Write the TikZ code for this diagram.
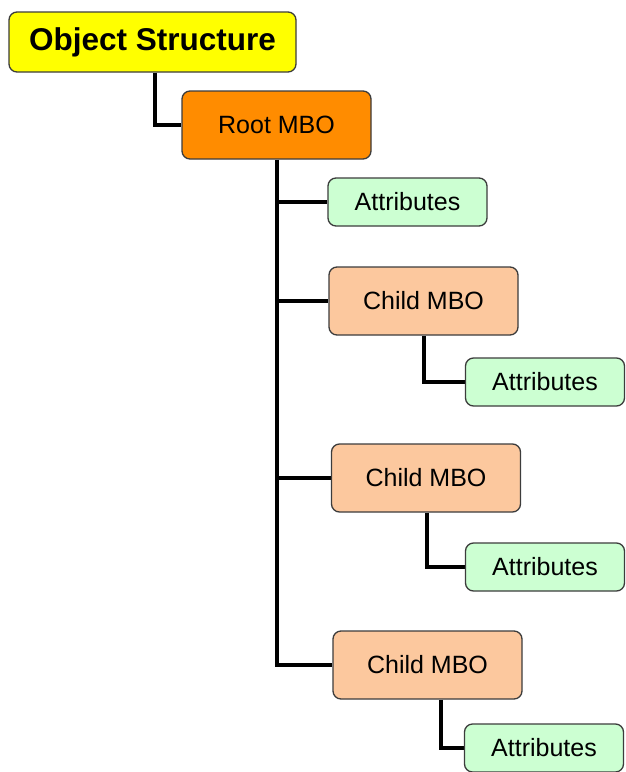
\documentclass[tikz,border=0pt]{standalone}
\usepackage{fontspec}
\setmainfont{Liberation Sans}
\usetikzlibrary{backgrounds}
\definecolor{titleyellow}{RGB}{255,255,0}
\definecolor{rootorange}{RGB}{255,140,0}
\definecolor{childpeach}{RGB}{252,200,158}
\definecolor{attrgreen}{RGB}{204,255,210}
\definecolor{boxedge}{RGB}{60,60,60}
\tikzset{
  box/.style={draw=boxedge, line width=1.3pt, rounded corners=8pt, inner sep=0pt,
    font=\fontsize{25}{30}\selectfont, text=black},
  titlebox/.style={box, fill=titleyellow, minimum width=287pt, minimum height=60pt,
    font=\fontsize{31.5}{36}\selectfont\bfseries},
  rootbox/.style={box, fill=rootorange, minimum width=189pt, minimum height=68pt},
  childbox/.style={box, fill=childpeach, minimum width=189pt, minimum height=68pt},
  attrbox/.style={box, fill=attrgreen, minimum width=159pt, minimum height=48pt},
  link/.style={draw=black, line width=4pt}
}
\begin{document}
\begin{tikzpicture}[x=1pt, y=-1pt]
  \useasboundingbox (0,0) rectangle (626,772);

  % x positions of the vertical tree lines
  \coordinate (tOS) at (155,72);
  \coordinate (tRoot) at (277,159);
  \coordinate (tC1) at (424,335);
  \coordinate (tC2) at (427,512);
  \coordinate (tC3) at (441,699);

  % boxes
  \node[titlebox] (os) at (152.5,42) {Object Structure};
  \node[rootbox]  (root) at (276.5,125) {Root MBO};
  \node[attrbox]  (a1) at (407.5,202) {Attributes};
  \node[childbox] (c1) at (423.5,301) {Child MBO};
  \node[attrbox]  (a2) at (545,382) {Attributes};
  \node[childbox] (c2) at (426,478) {Child MBO};
  \node[attrbox]  (a3) at (545,567) {Attributes};
  \node[childbox] (c3) at (427.5,665) {Child MBO};
  \node[attrbox]  (a4) at (544,748) {Attributes};

  % tree lines, kept behind the boxes
  \begin{scope}[on background layer]
    \draw[link] (tOS |- os.south) |- (root.west);
    \draw[link] (tRoot |- root.south) |- (c3.west);
    \draw[link] (tRoot |- a1.west) -- (a1.west);
    \draw[link] (tRoot |- c1.west) -- (c1.west);
    \draw[link] (tRoot |- c2.west) -- (c2.west);
    \draw[link] (tC1 |- c1.south) |- (a2.west);
    \draw[link] (tC2 |- c2.south) |- (a3.west);
    \draw[link] (tC3 |- c3.south) |- (a4.west);
  \end{scope}
\end{tikzpicture}
\end{document}
